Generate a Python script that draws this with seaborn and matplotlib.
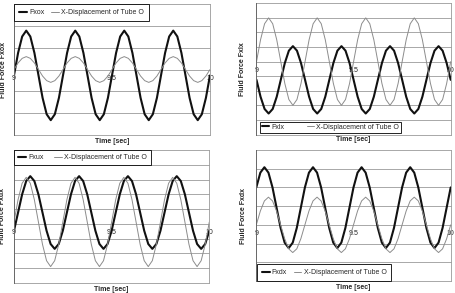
import numpy as np
import matplotlib
matplotlib.use("Agg")
import matplotlib.pyplot as plt
import seaborn as sns

sns.set_style("white")
plt.rcParams["font.family"] = ["Liberation Sans", "DejaVu Sans"]

# time axis, 48 samples per second
time = np.linspace(9.0, 10.0, 49)

# values (units = grid spacing)
fxox = [-0.27, 0.76, 1.51, 1.78, 1.51, 0.76, -0.27, -1.30, -2.05, -2.32, -2.05, -1.30,
        -0.27, 0.76, 1.51, 1.78, 1.51, 0.76, -0.27, -1.30, -2.05, -2.32, -2.05, -1.30,
        -0.27, 0.76, 1.51, 1.78, 1.51, 0.76, -0.27, -1.30, -2.05, -2.32, -2.05, -1.30,
        -0.27, 0.76, 1.51, 1.78, 1.51, 0.76, -0.27, -1.30, -2.05, -2.32, -2.05, -1.30,
        -0.27]
disp_o = [0, 0.30, 0.51, 0.59, 0.51, 0.30, 0, -0.30, -0.51, -0.59, -0.51, -0.30,
          0, 0.30, 0.51, 0.59, 0.51, 0.30, 0, -0.30, -0.51, -0.59, -0.51, -0.30,
          0, 0.30, 0.51, 0.59, 0.51, 0.30, 0, -0.30, -0.51, -0.59, -0.51, -0.30,
          0, 0.30, 0.51, 0.59, 0.51, 0.30, 0, -0.30, -0.51, -0.59, -0.51, -0.30,
          0]

fxlx = [-1.25, -2.41, -3.25, -3.56, -3.25, -2.41, -1.25, -0.10, 0.75, 1.06, 0.75, -0.10,
        -1.25, -2.41, -3.25, -3.56, -3.25, -2.41, -1.25, -0.10, 0.75, 1.06, 0.75, -0.10,
        -1.25, -2.41, -3.25, -3.56, -3.25, -2.41, -1.25, -0.10, 0.75, 1.06, 0.75, -0.10,
        -1.25, -2.41, -3.25, -3.56, -3.25, -2.41, -1.25, -0.10, 0.75, 1.06, 0.75, -0.10,
        -1.25]
disp_l = [0, 1.5, 2.6, 3.0, 2.6, 1.5, 0, -1.5, -2.6, -3.0, -2.6, -1.5,
          0, 1.5, 2.6, 3.0, 2.6, 1.5, 0, -1.5, -2.6, -3.0, -2.6, -1.5,
          0, 1.5, 2.6, 3.0, 2.6, 1.5, 0, -1.5, -2.6, -3.0, -2.6, -1.5,
          0, 1.5, 2.6, 3.0, 2.6, 1.5, 0, -1.5, -2.6, -3.0, -2.6, -1.5,
          0]

fxux = [-0.46, 0.77, 2.00, 2.90, 3.23, 2.90, 2.00, 0.77, -0.46, -1.36, -1.69, -1.36,
        -0.46, 0.77, 2.00, 2.90, 3.23, 2.90, 2.00, 0.77, -0.46, -1.36, -1.69, -1.36,
        -0.46, 0.77, 2.00, 2.90, 3.23, 2.90, 2.00, 0.77, -0.46, -1.36, -1.69, -1.36,
        -0.46, 0.77, 2.00, 2.90, 3.23, 2.90, 2.00, 0.77, -0.46, -1.36, -1.69, -1.36,
        -0.46]
disp_u = [0.13, 1.64, 2.75, 3.15, 2.75, 1.64, 0.13, -1.38, -2.49, -2.89, -2.49, -1.38,
          0.13, 1.64, 2.75, 3.15, 2.75, 1.64, 0.13, -1.38, -2.49, -2.89, -2.49, -1.38,
          0.13, 1.64, 2.75, 3.15, 2.75, 1.64, 0.13, -1.38, -2.49, -2.89, -2.49, -1.38,
          0.13, 1.64, 2.75, 3.15, 2.75, 1.64, 0.13, -1.38, -2.49, -2.89, -2.49, -1.38,
          0.13]

fxdx = [2.00, 2.79, 3.08, 2.79, 2.00, 0.92, -0.16, -0.95, -1.24, -0.95, -0.16, 0.92,
        2.00, 2.79, 3.08, 2.79, 2.00, 0.92, -0.16, -0.95, -1.24, -0.95, -0.16, 0.92,
        2.00, 2.79, 3.08, 2.79, 2.00, 0.92, -0.16, -0.95, -1.24, -0.95, -0.16, 0.92,
        2.00, 2.79, 3.08, 2.79, 2.00, 0.92, -0.16, -0.95, -1.24, -0.95, -0.16, 0.92,
        2.00]
disp_d = [0, 0.74, 1.28, 1.48, 1.28, 0.74, 0, -0.74, -1.28, -1.48, -1.28, -0.74,
          0, 0.74, 1.28, 1.48, 1.28, 0.74, 0, -0.74, -1.28, -1.48, -1.28, -0.74,
          0, 0.74, 1.28, 1.48, 1.28, 0.74, 0, -0.74, -1.28, -1.48, -1.28, -0.74,
          0, 0.74, 1.28, 1.48, 1.28, 0.74, 0, -0.74, -1.28, -1.48, -1.28, -0.74,
          0]

tick_pos = [9, 9.5, 10]
tick_labels = ["9", "9.5", "10"]
disp_label = "X-Displacement of Tube O"

W, H = 456, 293
fig = plt.figure(figsize=(W / 100, H / 100), dpi=100)


def add_panel(box, force, disp, name, ylim, leg, ylab_x, xlab_y):
    l, t, r, b = box
    ax = fig.add_axes([l / W, 1 - b / H, (r - l) / W, (b - t) / H])
    sns.lineplot(x=time, y=force, ax=ax, color="#111111", linewidth=1.5,
                 solid_joinstyle="round", label=name)
    sns.lineplot(x=time, y=disp, ax=ax, color="#8c8c8c", linewidth=0.7,
                 solid_joinstyle="round", label=disp_label)
    ax.set_xlim(9, 10)
    ax.set_ylim(*ylim)
    ax.set_yticks(np.arange(ylim[0], ylim[1] + 1))
    ax.grid(axis="y", color="#9a9a9a", linewidth=0.6)
    for gl in ax.get_ygridlines():
        gl.set_clip_on(False)
    ax.tick_params(axis="y", length=0, labelleft=False)
    ax.set_xticks(tick_pos, tick_labels)
    ax.tick_params(axis="x", length=0, pad=4, labelsize=5)
    ax.spines["bottom"].set_position(("data", 0))
    ax.spines["bottom"].set_visible(False)
    ax.spines["top"].set_visible(False)
    ax.spines["left"].set_color("#666666")
    ax.spines["left"].set_linewidth(0.7)
    ax.spines["right"].set_color("#999999")
    ax.spines["right"].set_linewidth(0.6)
    ax.set_ylabel("Fluid Force " + name, fontsize=5, fontweight="bold")
    ax.yaxis.set_label_coords(ylab_x, 0.5)
    ax.set_xlabel("Time [sec]", fontsize=5, fontweight="bold")
    ax.xaxis.set_label_coords(0.5, xlab_y)
    lg = ax.legend(fontsize=5, ncol=2, frameon=True, fancybox=False, framealpha=1,
                   edgecolor="black", handlelength=1.1, handletextpad=0.3,
                   borderaxespad=0, **leg)
    lg.get_frame().set_linewidth(0.6)
    return ax


add_panel((14, 4, 210, 135), fxox, disp_o, "Fxox", (-3, 3),
          dict(loc="upper left", bbox_to_anchor=(0, 1), borderpad=0.75, columnspacing=1.0),
          -0.038, -0.024)
add_panel((256.5, 3.3, 450.7, 134.5), fxlx, disp_l, "Fxlx", (-5, 4),
          dict(loc="lower left", bbox_to_anchor=(0.018, 0.014), borderpad=0.25, columnspacing=3.2),
          -0.052, -0.015)
add_panel((14, 150, 209.3, 283), fxux, disp_u, "Fxux", (-4, 5),
          dict(loc="upper left", bbox_to_anchor=(0, 1), borderpad=0.6, columnspacing=1.6),
          -0.04, -0.026)
add_panel((256.3, 150, 450.7, 281), fxdx, disp_d, "Fxdx", (-3, 4),
          dict(loc="lower left", bbox_to_anchor=(0.004, 0), borderpad=0.7, columnspacing=1.0),
          -0.05, -0.024)

fig.savefig("out.png", dpi=100)
